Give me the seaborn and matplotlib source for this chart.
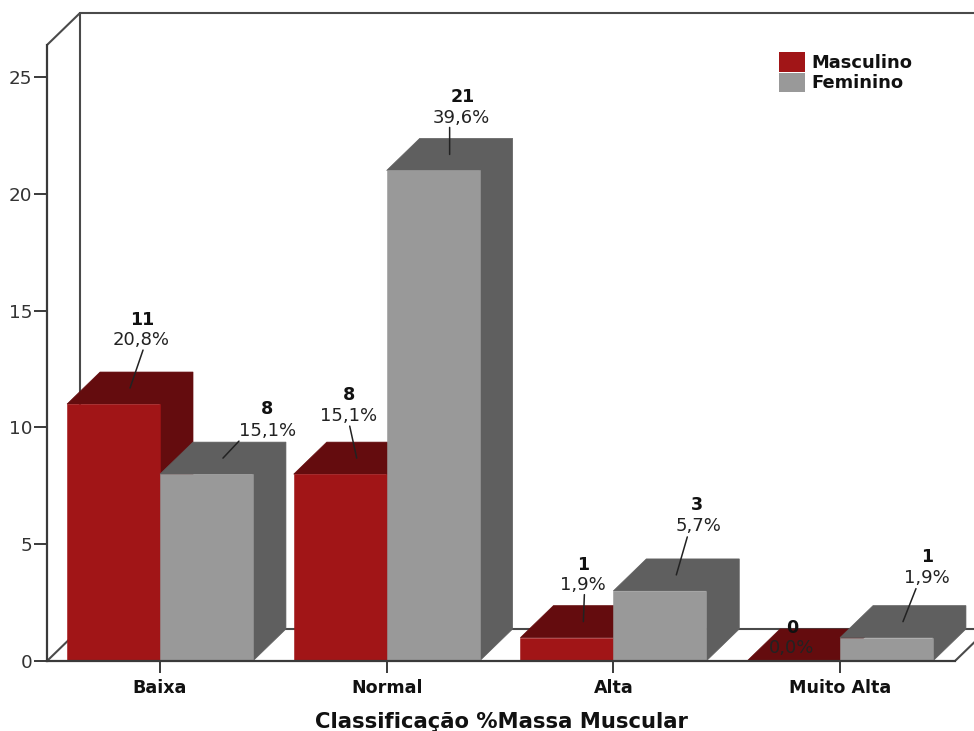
import pandas as pd
import seaborn as sns
import matplotlib
matplotlib.use("Agg")
import matplotlib.pyplot as plt
from matplotlib.patches import Polygon

# Survey counts by muscle-mass class and sex
categories = ["Baixa", "Normal", "Alta", "Muito Alta"]
masculino = [11, 8, 1, 0]
feminino = [8, 21, 3, 1]
pct_masculino = ["20,8%", "15,1%", "1,9%", "0,0%"]
pct_feminino = ["15,1%", "39,6%", "5,7%", "1,9%"]
series_names = ["Masculino", "Feminino"]
axis_title = "Classificação %Massa Muscular"

W, H = 974, 731
LEFT, BASE = 47, 661          # pixel position of the front axis corner
GROUP_PX, UNIT_PX = 226.67, 23.36
DX_PX, DY_PX = 33, 32         # pseudo-3D depth in pixels
FRONT = {"Masculino": "#A11517", "Feminino": "#999999"}
DARK = {"Masculino": "#640C0E", "Feminino": "#5F5F5F"}
LINE = "#3A3A3A"

sns.set_theme(style="white")
plt.rcParams["font.family"] = ["DejaVu Sans"]

df = pd.DataFrame({
    "classe": categories * 2,
    "sexo": [series_names[0]] * 4 + [series_names[1]] * 4,
    "n": masculino + feminino,
})

fig = plt.figure(figsize=(W / 100, H / 100), dpi=100, facecolor="white")
ax = fig.add_axes([LEFT / W, (H - BASE) / H, (W - LEFT) / W, BASE / H])
sns.barplot(data=df, x="classe", y="n", hue="sexo", order=categories,
            hue_order=series_names, palette=FRONT, saturation=1, width=0.82,
            linewidth=0, ax=ax)

x0 = (LEFT - 160) / GROUP_PX
x1 = x0 + (W - LEFT) / GROUP_PX
ax.set_xlim(x0, x1)
ax.set_ylim(0, BASE / UNIT_PX)
dx, dy = DX_PX / GROUP_PX, DY_PX / UNIT_PX
y_top = 26.37

# Back wall and floor outline
wall = dict(color="#4A4A4A", lw=1.5, zorder=1, solid_capstyle="round")
ax.plot([x0 + dx, x0 + dx], [dy, y_top + dy], **wall)
ax.plot([x0 + dx, x1], [y_top + dy, y_top + dy], **wall)
ax.plot([x0 + dx, x1], [dy, dy], **wall)
ax.plot([x0, x0 + dx], [y_top, y_top + dy], **wall)
ax.plot([x0, x0 + dx], [0, dy], **wall)
floor_end = (955 - 160) / GROUP_PX
ax.plot([floor_end, floor_end + dx], [0, dy], **wall)

# Label offsets in pixels from each top-face centre: leader start, percent, count
offsets = {
    (0, 0): ((13, 38), (11, 48), (12, 68)),
    (0, 1): ((16, 17), (45, 27), (44, 49)),
    (1, 0): ((-7, 32), (-8, 42), (-8, 63)),
    (1, 1): ((0, 27), (12, 36), (13, 57)),
    (2, 0): ((1, 27), (0, 37), (0, 57)),
    (2, 1): ((11, 38), (22, 49), (21, 70)),
    (3, 0): (None, (-18, -3), (-18, 17)),
    (3, 1): ((13, 33), (24, 44), (24, 65)),
}
pct_labels = [pct_masculino, pct_feminino]
counts = [masculino, feminino]

# Extrude each bar left to right so nearer faces overlap correctly
order = 3
for i in range(len(categories)):
    for j, name in enumerate(series_names):
        bar = ax.containers[j][i]
        bx, bw, bh = bar.get_x(), bar.get_width(), bar.get_height()
        depth_face = [(bx, bh), (bx + dx, bh + dy), (bx + bw + dx, bh + dy),
                      (bx + bw + dx, dy), (bx + bw, 0), (bx + bw, bh)]
        ax.add_patch(Polygon(depth_face, closed=True, facecolor=DARK[name],
                             edgecolor=DARK[name], linewidth=0.5, zorder=order))
        bar.set_edgecolor(FRONT[name])
        bar.set_linewidth(0.4)
        bar.set_zorder(order + 0.5)
        order += 1

        anchor = (bx + bw / 2 + dx / 2, bh + dy / 2)
        leader, pct_off, cnt_off = offsets[(i, j)]
        if leader is not None:
            ax.annotate("", xy=anchor, xycoords="data", xytext=leader,
                        textcoords="offset pixels", zorder=30,
                        arrowprops=dict(arrowstyle="-", color="#222222", lw=1.1,
                                        shrinkA=0, shrinkB=0))
        ax.annotate(pct_labels[j][i], xy=anchor, xytext=pct_off,
                    textcoords="offset pixels", ha="center", va="center",
                    fontsize=13, color="#222222", zorder=31)
        ax.annotate(str(counts[j][i]), xy=anchor, xytext=cnt_off,
                    textcoords="offset pixels", ha="center", va="center",
                    fontsize=12.6, fontweight="bold", color="#111111", zorder=31)

# Axes
for s in ("top", "right"):
    ax.spines[s].set_visible(False)
for s in ("left", "bottom"):
    ax.spines[s].set_color(LINE)
    ax.spines[s].set_linewidth(1.6)
    ax.spines[s].set_zorder(20)
ax.spines["left"].set_bounds(0, y_top)
ax.spines["bottom"].set_bounds(x0, floor_end)

ax.set_yticks(range(0, 30, 5))
ax.tick_params(axis="y", left=True, length=9.4, width=1.4, color=LINE, pad=1,
               labelsize=13.2, labelcolor="#333333")
ax.tick_params(axis="x", bottom=True, length=8.6, width=1.4, color=LINE, pad=4.5,
               labelsize=12.6, labelcolor="#111111")
for lab in ax.get_xticklabels():
    lab.set_fontweight("bold")
ax.set_ylabel("")
ax.set_xlabel(axis_title, fontsize=15.2, fontweight="bold", color="#111111", va="center")
ax.xaxis.set_label_coords((501 - LEFT) / (W - LEFT), -(722 - BASE) / BASE)

sns.move_legend(ax, "upper left", bbox_to_anchor=((779 - LEFT) / (W - LEFT), (BASE - 52) / BASE),
                title=None, frameon=False, borderpad=0, borderaxespad=0,
                handlelength=1.45, handleheight=1.3, handletextpad=0.33, labelspacing=0.05,
                prop={"size": 12.9, "weight": "bold"})
for txt in ax.get_legend().get_texts():
    txt.set_color("#111111")

fig.savefig("out.png", dpi=100, facecolor="white")
